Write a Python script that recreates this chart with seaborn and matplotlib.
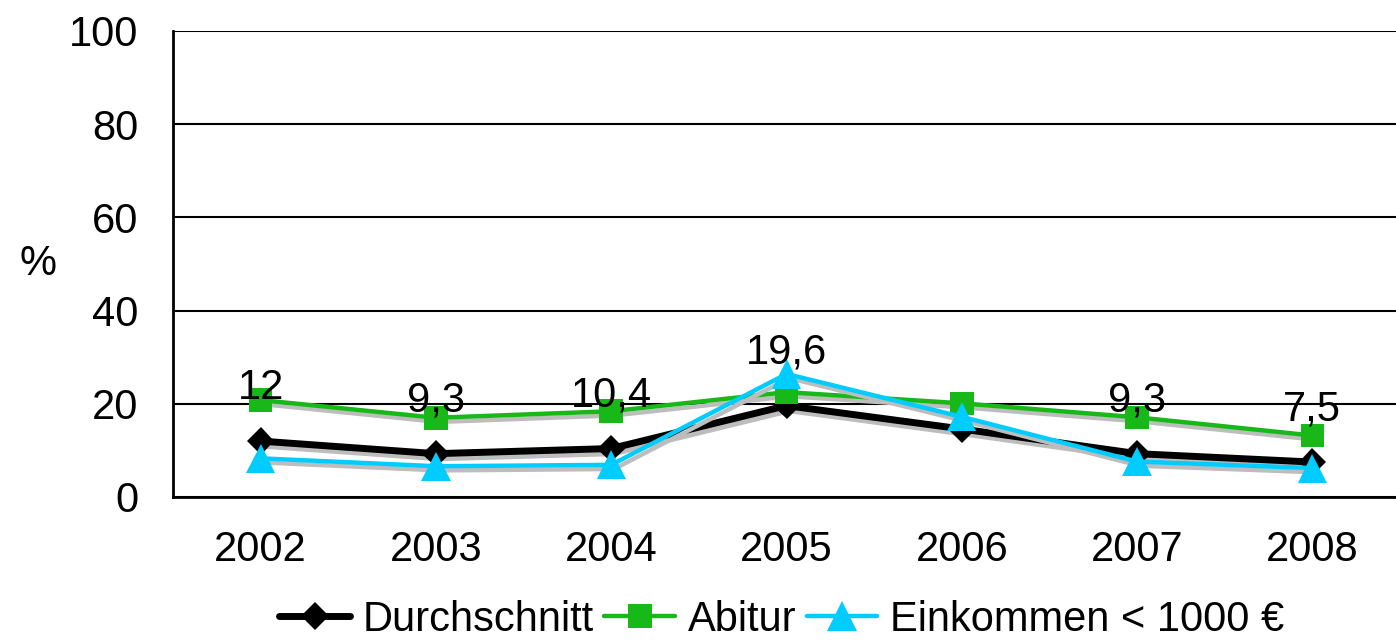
import numpy as np
import pandas as pd
import matplotlib
matplotlib.use('Agg')
import matplotlib.pyplot as plt
import matplotlib.patheffects as pe
import seaborn as sns

YEARS = ['2002', '2003', '2004', '2005', '2006', '2007', '2008']

DURCHSCHNITT = [12.0, 9.3, 10.4, 19.6, 14.6, 9.3, 7.5]
ABITUR = [20.8, 17.0, 18.4, 22.5, 20.1, 17.1, 13.2]
EINKOMMEN = [8.3, 6.6, 6.9, 26.4, 17.2, 7.6, 6.2]

# labels shown on the Durchschnitt series (none for 2006)
LABELS = ['12', '9,3', '10,4', '19,6', None, '9,3', '7,5']

SERIES = ['Durchschnitt', 'Abitur', 'Einkommen < 1000 €']
COLORS = ['#000000', '#19B819', '#00CCFF']
MARKERS = ['D', 's', '^']
MSIZES = [14, 17, 21]
LWIDTHS = [5.0, 3.2, 3.2]

sns.set_style('white')
plt.rcParams['font.family'] = ['Liberation Sans', 'DejaVu Sans']
plt.rcParams['font.size'] = 30
for key in ['text.color', 'axes.labelcolor', 'xtick.color', 'ytick.color']:
    plt.rcParams[key] = 'black'

fig = plt.figure(figsize=(13.96, 6.44), dpi=100)
ax = fig.add_axes([173 / 1396, 1 - 497 / 644, 1227 / 1396, 466 / 644])

for name, vals, col, mk, ms, lw in zip(SERIES, [DURCHSCHNITT, ABITUR, EINKOMMEN],
                                       COLORS, MARKERS, MSIZES, LWIDTHS):
    df = pd.DataFrame({'x': np.arange(len(YEARS)), 'y': vals})
    sns.lineplot(data=df, x='x', y='y', ax=ax, color=col, marker=mk, markersize=ms,
                 markeredgewidth=0, linewidth=lw, label=name, sort=False)
    line = ax.lines[-1]
    line.set_path_effects([pe.SimpleLineShadow(offset=(2, -3), shadow_color='#bdbdbd', alpha=1),
                           pe.Normal()])

for i, lab in enumerate(LABELS):
    if lab is None:
        continue
    ax.annotate(lab, xy=(i, DURCHSCHNITT[i]), xytext=(0, 38), textcoords='offset points',
                ha='center', va='center', fontsize=30, color='black')

ax.set_xlim(-0.5, 6.5)
ax.set_ylim(0, 100)
ax.set_yticks([0, 20, 40, 60, 80, 100])
ax.set_xticks(range(len(YEARS)))
ax.set_xticklabels(YEARS)
ax.set_xticks(np.arange(-0.5, 6.0, 1.0), minor=True)

ax.tick_params(axis='x', which='major', length=0, pad=24, labelsize=30, labelcolor='black')
ax.tick_params(axis='x', which='minor', length=7, width=1.6, direction='out', color='black')
ax.tick_params(axis='y', length=7, width=1.6, direction='out', pad=18, labelsize=30,
               color='black', labelcolor='black')

ax.grid(axis='y', color='black', linewidth=1.5)
ax.grid(axis='x', visible=False)
ax.set_axisbelow(True)

for side in ['top', 'right']:
    ax.spines[side].set_visible(False)
for side in ['left', 'bottom']:
    ax.spines[side].set_color('black')
    ax.spines[side].set_linewidth(2)

ax.set_xlabel('')
ax.set_ylabel('%', rotation=0, fontsize=30, ha='center', va='center', color='black')
ax.yaxis.set_label_coords(-0.11, 0.5)

ax.legend_.remove()
handles, labels = ax.get_legend_handles_labels()
leg = fig.legend(handles, labels, loc='lower center', bbox_to_anchor=(0.56, 0.0), ncol=3,
                 frameon=False, fontsize=30, handlelength=1.7, handletextpad=0.3,
                 columnspacing=0.25, borderaxespad=0.0, borderpad=0.1)
for t in leg.get_texts():
    t.set_color('black')
for h in leg.legend_handles:
    h.set_path_effects([])

fig.savefig('out.png', dpi=100)
